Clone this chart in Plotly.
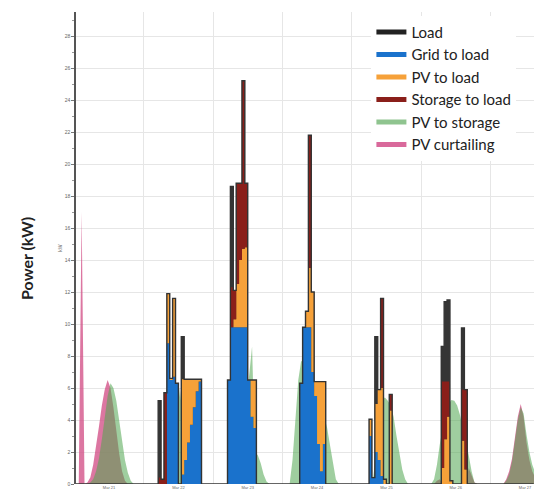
import pandas as pd
import plotly.graph_objects as go

# Hourly values, Mar 21 00:00 .. Mar 27 15:00 (one line per day)
load = (
    [0, 0, 0, 0, 0, 0, 0, 0, 0, 0, 0, 0, 0, 0, 0, 0, 0, 0, 0, 0, 0, 0, 0, 0] +
    [0, 0, 0, 0, 0, 5.2, 0.3, 5.7, 11.9, 6.6, 11.6, 6.3, 0, 9.2, 6.55, 6.55, 6.55, 6.55, 6.55, 6.55, 0, 0, 0, 0] +
    [0, 0, 0, 0, 0, 6.5, 18.6, 12.1, 18.8, 18.8, 25.2, 18.8, 6.5, 6.5, 6.5, 0, 0, 0, 0, 0, 0, 0, 0, 0] +
    [0, 0, 0, 0, 0, 0, 6.3, 9.8, 10.8, 21.8, 12.0, 6.4, 6.4, 6.4, 6.4, 0, 0, 0, 0, 0, 0, 0, 0, 0] +
    [0, 0, 0, 0, 0, 0, 4.05, 0.4, 9.2, 5.9, 11.6, 0.3, 0, 5.6, 0, 0, 0, 0, 0, 0, 0, 0, 0, 0] +
    [0, 0, 0, 0, 0, 0, 0, 8.6, 11.4, 11.5, 0.2, 0, 0, 0, 9.75, 5.9, 0, 0, 0, 0, 0, 0, 0, 0] +
    [0, 0, 0, 0, 0, 0, 0, 0, 0, 0, 0, 0, 0, 0, 0, 0]
)
grid_to_load = (
    [0, 0, 0, 0, 0, 0, 0, 0, 0, 0, 0, 0, 0, 0, 0, 0, 0, 0, 0, 0, 0, 0, 0, 0] +
    [0, 0, 0, 0, 0, 0, 0, 0, 8.8, 6.5, 6.7, 6.3, 0, 0.6, 1.5, 2.6, 3.7, 4.8, 5.8, 6.4, 0, 0, 0, 0] +
    [0, 0, 0, 0, 0, 6.5, 9.8, 9.8, 9.8, 9.8, 9.8, 9.8, 6.5, 4.2, 3.5, 0, 0, 0, 0, 0, 0, 0, 0, 0] +
    [0, 0, 0, 0, 0, 0, 6.3, 9.8, 9.8, 9.8, 7.0, 5.5, 2.5, 0.8, 2.5, 0, 0, 0, 0, 0, 0, 0, 0, 0] +
    [0, 0, 0, 0, 0, 0, 3.0, 0.4, 2.0, 1.5, 0.5, 0, 0, 0, 0, 0, 0, 0, 0, 0, 0, 0, 0, 0] +
    [0, 0, 0, 0, 0, 0, 0, 0, 0, 0, 0, 0, 0, 0, 0, 0, 0, 0, 0, 0, 0, 0, 0, 0] +
    [0, 0, 0, 0, 0, 0, 0, 0, 0, 0, 0, 0, 0, 0, 0, 0]
)
pv_to_load = (
    [0, 0, 0, 0, 0, 0, 0, 0, 0, 0, 0, 0, 0, 0, 0, 0, 0, 0, 0, 0, 0, 0, 0, 0] +
    [0, 0, 0, 0, 0, 0, 0, 0, 3.1, 0.1, 4.9, 0, 0, 5.95, 5.05, 3.95, 2.85, 1.75, 0.75, 0.15, 0, 0, 0, 0] +
    [0, 0, 0, 0, 0, 0, 0, 0.5, 2.7, 4.2, 4.9, 5.0, 0, 2.3, 3.0, 0, 0, 0, 0, 0, 0, 0, 0, 0] +
    [0, 0, 0, 0, 0, 0, 0, 0, 1.0, 3.7, 5.0, 0.9, 3.9, 5.6, 3.9, 0, 0, 0, 0, 0, 0, 0, 0, 0] +
    [0, 0, 0, 0, 0, 0, 1.05, 0, 3.0, 4.4, 5.5, 0.3, 0, 4.6, 0, 0, 0, 0, 0, 0, 0, 0, 0, 0] +
    [0, 0, 0, 0, 0, 0, 0, 1.0, 2.8, 4.2, 0.2, 0, 0, 0, 2.7, 0.9, 0, 0, 0, 0, 0, 0, 0, 0] +
    [0, 0, 0, 0, 0, 0, 0, 0, 0, 0, 0, 0, 0, 0, 0, 0]
)
storage_to_load = (
    [0, 0, 0, 0, 0, 0, 0, 0, 0, 0, 0, 0, 0, 0, 0, 0, 0, 0, 0, 0, 0, 0, 0, 0] +
    [0, 0, 0, 0, 0, 0.4, 0.3, 5.7, 0, 0, 0, 0, 0, 0, 0, 0, 0, 0, 0, 0, 0, 0, 0, 0] +
    [0, 0, 0, 0, 0, 0, 2.5, 1.8, 6.3, 4.8, 10.5, 4.0, 0, 0, 0, 0, 0, 0, 0, 0, 0, 0, 0, 0] +
    [0, 0, 0, 0, 0, 0, 0, 0, 0, 8.3, 0, 0, 0, 0, 0, 0, 0, 0, 0, 0, 0, 0, 0, 0] +
    [0, 0, 0, 0, 0, 0, 0, 0, 0, 0, 5.6, 0, 0, 1.0, 0, 0, 0, 0, 0, 0, 0, 0, 0, 0] +
    [0, 0, 0, 0, 0, 0, 0, 5.4, 3.6, 2.2, 0, 0, 0, 0, 3.2, 5.0, 0, 0, 0, 0, 0, 0, 0, 0] +
    [0, 0, 0, 0, 0, 0, 0, 0, 0, 0, 0, 0, 0, 0, 0, 0]
)
pv_to_storage = (
    [0, 0, 0, 0, 0, 0.1, 0.3, 0.8, 1.6, 2.8, 4.2, 5.5, 6.3, 6.0, 5.2, 4.0, 2.7, 1.5, 0.7, 0.2, 0, 0, 0, 0] +
    [0, 0, 0, 0, 0, 0, 0, 0, 0, 0, 0, 4.0, 6.0, 4.0, 0, 0, 0, 0, 0, 0, 0, 0, 0, 0] +
    [0, 0, 0, 0, 0, 0, 0, 0, 0, 0, 0, 5.0, 7.0, 8.6, 2.0, 1.8, 1.3, 0.6, 0.15, 0, 0, 0, 0, 0] +
    [0, 0, 0, 1.5, 4.0, 6.5, 7.7, 7.5, 7.0, 6.5, 6.0, 5.5, 5.0, 4.6, 4.2, 3.5, 2.4, 1.2, 0.3, 0, 0, 0, 0, 0] +
    [0, 0, 0, 0, 0, 0, 0, 0.5, 2.0, 4.0, 5.3, 5.4, 5.2, 4.9, 4.2, 3.0, 1.8, 0.9, 0.3, 0, 0, 0, 0, 0] +
    [0, 0, 0, 0, 0.3, 1.2, 2.5, 3.5, 4.5, 5.0, 5.25, 5.2, 4.9, 4.3, 3.5, 2.8, 1.8, 0.8, 0.1, 0, 0, 0, 0, 0] +
    [0, 0, 0, 0, 0, 0.2, 0.6, 1.4, 2.6, 4.0, 4.8, 4.4, 3.1, 2.0, 1.2, 0.7]
)
pv_curtailing = (
    [0, 0, 17, 0, 0.1, 0.4, 1.2, 2.3, 3.6, 4.9, 5.9, 6.5, 6.0, 4.8, 3.3, 1.9, 0.8, 0.2, 0, 0, 0, 0, 0, 0] +
    [0, 0, 0, 0, 0, 0, 0, 0, 0, 0, 0, 0, 0, 0, 0, 0, 0, 0, 0, 0, 0, 0, 0, 0] +
    [0, 0, 0, 0, 0, 0, 0, 0, 0, 0, 0, 0, 0, 0, 0, 0, 0, 0, 0, 0, 0, 0, 0, 0] +
    [0, 0, 0, 0, 0, 0, 0, 0, 0, 0, 0, 0, 0, 0, 0, 0, 0, 0, 0, 0, 0, 0, 0, 0] +
    [0, 0, 0, 0, 0, 0, 0, 0, 0, 0, 0, 0, 0, 0, 0, 0, 0, 0, 0, 0, 0, 0, 0, 0] +
    [0, 0, 0, 0, 0, 0.2, 0.3, 0, 0, 0, 0, 0, 0, 0, 0, 0, 1.0, 0.5, 0.1, 0, 0, 0, 0, 0] +
    [0, 0, 0, 0, 0, 0.3, 0.8, 1.6, 2.8, 4.2, 5.0, 4.2, 2.6, 1.5, 0.8, 0.4]
)

times = pd.date_range("2021-03-21 00:00", periods=len(load), freq="h")   # start of each hour
mid_times = times + pd.Timedelta(minutes=30)                             # hour centres
series_names = ["Load", "Grid to load", "PV to load", "Storage to load", "PV to storage", "PV curtailing"]
legend_colors = ["#222222", "#1a72cc", "#f6a139", "#8a1f1a", "#8fc48f", "#d9699b"]

fig = go.Figure()
# load area behind everything (visible where the supply stack is lower than the load)
fig.add_trace(go.Scatter(x=times, y=load, mode="lines", fill="tozeroy",
                         line=dict(width=0, shape="hv"), fillcolor="#353535",
                         showlegend=False, hoverinfo="skip"))
# translucent PV areas
fig.add_trace(go.Scatter(x=mid_times, y=pv_curtailing, mode="lines", fill="tozeroy",
                         line=dict(width=0), fillcolor="rgba(210,80,135,0.78)",
                         showlegend=False, hoverinfo="skip"))
fig.add_trace(go.Scatter(x=mid_times, y=pv_to_storage, mode="lines", fill="tozeroy",
                         line=dict(width=0), fillcolor="rgba(80,165,80,0.55)",
                         showlegend=False, hoverinfo="skip"))
# stacked load supply
for vals, col in [(grid_to_load, "#1a72cc"), (pv_to_load, "#f6a139"), (storage_to_load, "#8a1f1a")]:
    fig.add_trace(go.Scatter(x=times, y=vals, mode="lines", stackgroup="supply",
                             line=dict(width=0, shape="hv", color=col), fillcolor=col,
                             showlegend=False, hoverinfo="skip"))
fig.add_trace(go.Scatter(x=times, y=load, mode="lines",
                         line=dict(width=1.4, shape="hv", color="#333333"),
                         showlegend=False))
# legend entries
for name, col in zip(series_names, legend_colors):
    fig.add_trace(go.Scatter(x=[None], y=[None], mode="lines", name=name,
                             line=dict(color=col, width=5)))

fig.update_layout(
    width=534, height=491,
    margin=dict(l=76, r=0, t=12, b=7),
    paper_bgcolor="white", plot_bgcolor="white",
    font=dict(family="Lato, sans-serif", color="#222"),
    legend=dict(x=0.645, y=0.992, xanchor="left", yanchor="top", traceorder="normal",
                bgcolor="white", font=dict(family="Lato", size=15, color="#222"),
                tracegroupgap=0),
    xaxis=dict(type="date", range=["2021-03-21 00:33", "2021-03-27 15:06"],
               dtick=86400000, tick0="2021-03-21", tickformat="%b %d",
               ticklabelmode="period", showgrid=True, gridcolor="#e6e6e6",
               ticks="", ticklen=0,
               tickfont=dict(size=4, color="#666", family="Liberation Sans"),
               showline=False, zeroline=False, automargin=False),
    yaxis=dict(range=[0, 29.5], dtick=2, showgrid=True, gridcolor="#e6e6e6",
               ticks="outside", ticklen=3, tickcolor="#777",
               minor=dict(dtick=1, ticks="outside", ticklen=2, tickcolor="#999", showgrid=False),
               tickfont=dict(size=5, color="#666", family="Liberation Sans"),
               showline=True, linecolor="#555", linewidth=1.5, zeroline=False,
               title=dict(text="kW", font=dict(size=5, color="#666", family="Liberation Sans"), standoff=2),
               automargin=False),
    annotations=[dict(text="<b>Power (kW)</b>", xref="paper", yref="paper",
                      x=-0.107, y=0.479, xanchor="center", yanchor="middle",
                      showarrow=False, textangle=-90,
                      font=dict(family="Lato", size=16, color="#222"))],
)

fig.write_html("out.html", config={"displayModeBar": False},
               post_script="document.body.style.margin='0';")
